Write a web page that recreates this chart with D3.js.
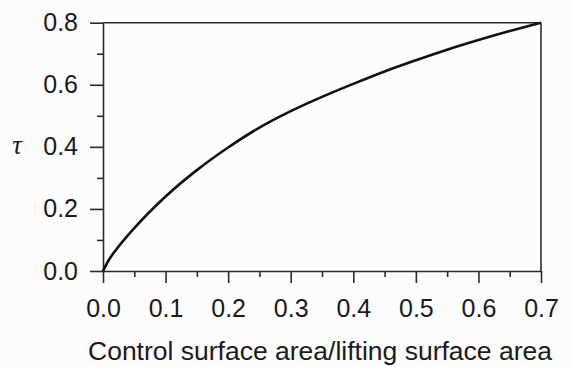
<!DOCTYPE html>
<html>
<head>
<meta charset="utf-8">
<script src="https://cdn.jsdelivr.net/npm/d3@7"></script>
<style>
  html, body { margin: 0; padding: 0; background: #fcfcfc; }
  svg { display: block; }
  .axis text { font-family: "Liberation Sans", Arial, sans-serif; font-size: 25px; fill: #1a1a1a; }
</style>
</head>
<body>
<div id="chart"></div>
<script>
// area ratio (control / lifting surface)
const areaRatio = [0, 0.01, 0.02, 0.05, 0.1, 0.15, 0.2, 0.25, 0.3, 0.35, 0.4, 0.45, 0.5, 0.55, 0.6, 0.65, 0.7];
const tauValues = [0, 0.038, 0.066, 0.138, 0.24, 0.325, 0.398, 0.462, 0.515, 0.561, 0.603, 0.643, 0.679, 0.713, 0.744, 0.773, 0.8];

const xMajorTicks = [0, 0.1, 0.2, 0.3, 0.4, 0.5, 0.6, 0.7];
const xMinorTicks = [0.05, 0.15, 0.25, 0.35, 0.45, 0.55, 0.65];
const yMajorTicks = [0, 0.2, 0.4, 0.6, 0.8];
const yMinorTicks = [0.1, 0.3, 0.5, 0.7];

const xTitle = 'Control surface area/lifting surface area';
const yTitle = 'τ';

const width = 571, height = 367;
const margin = { top: 22.7, right: 30, bottom: 96, left: 103 };
const innerW = 541 - margin.left;
const innerH = 271 - margin.top;

const svg = d3.select('#chart')
  .append('svg')
  .attr('width', width)
  .attr('height', height);

const g = svg.append('g')
  .attr('transform', `translate(${margin.left}, ${margin.top})`);

const x = d3.scaleLinear().domain([0, 0.7]).range([0, innerW]);
const y = d3.scaleLinear().domain([0, 0.8]).range([innerH, 0]);

const axisColor = '#2a2a2a';

// minor ticks first (no labels)
g.append('g')
  .attr('class', 'axis')
  .attr('transform', `translate(0, ${innerH})`)
  .call(d3.axisBottom(x).tickValues(xMinorTicks).tickSize(6).tickSizeOuter(0).tickFormat(''))
  .call(a => a.select('.domain').remove());

g.append('g')
  .attr('class', 'axis')
  .call(d3.axisLeft(y).tickValues(yMinorTicks).tickSize(6).tickSizeOuter(0).tickFormat(''))
  .call(a => a.select('.domain').remove());

// major ticks with labels
g.append('g')
  .attr('class', 'axis')
  .attr('transform', `translate(0, ${innerH})`)
  .call(d3.axisBottom(x).tickValues(xMajorTicks).tickSize(12).tickSizeOuter(0).tickPadding(16).tickFormat(d3.format('.1f')));

g.append('g')
  .attr('class', 'axis')
  .call(d3.axisLeft(y).tickValues(yMajorTicks).tickSize(13).tickSizeOuter(0).tickPadding(12).tickFormat(d3.format('.1f')));

g.selectAll('.axis line, .axis .domain')
  .attr('stroke', axisColor)
  .attr('stroke-width', 1.6);

// frame on top and right
g.append('line')
  .attr('x1', 0).attr('x2', innerW)
  .attr('y1', 0).attr('y2', 0)
  .attr('stroke', axisColor).attr('stroke-width', 1.6);

g.append('line')
  .attr('x1', innerW).attr('x2', innerW)
  .attr('y1', 0).attr('y2', innerH)
  .attr('stroke', axisColor).attr('stroke-width', 1.6);

// the curve
const pts = areaRatio.map((v, i) => [v, tauValues[i]]);
const line = d3.line()
  .x(d => x(d[0]))
  .y(d => y(d[1]))
  .curve(d3.curveMonotoneX);

g.append('path')
  .datum(pts)
  .attr('fill', 'none')
  .attr('stroke', '#111')
  .attr('stroke-width', 2.6)
  .attr('stroke-linejoin', 'round')
  .attr('d', line);

// axis titles
svg.append('text')
  .attr('x', (88 + 552) / 2)
  .attr('y', 360)
  .attr('text-anchor', 'middle')
  .style('font-family', '"Liberation Sans", Arial, sans-serif')
  .style('font-size', '26.5px')
  .attr('fill', '#1a1a1a')
  .text(xTitle);

svg.append('text')
  .attr('x', 17)
  .attr('y', 154)
  .attr('text-anchor', 'middle')
  .style('font-family', '"Liberation Serif", "Times New Roman", serif')
  .style('font-style', 'italic')
  .style('font-size', '27px')
  .attr('fill', '#1a1a1a')
  .text(yTitle);
</script>
</body>
</html>
